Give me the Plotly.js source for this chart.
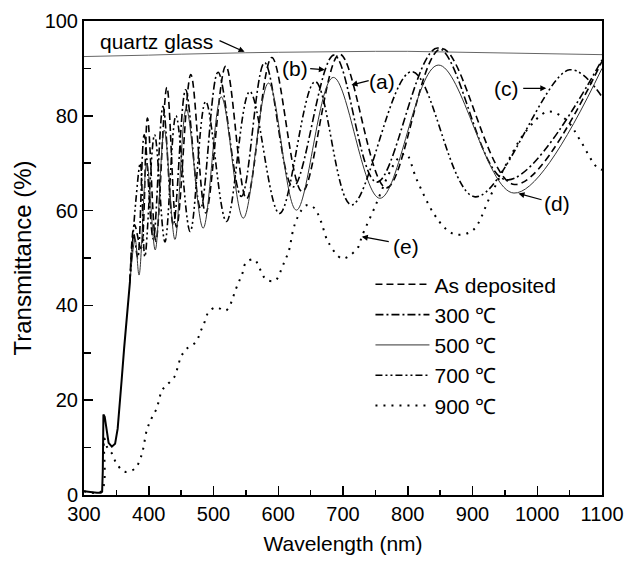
<!DOCTYPE html>
<html>
<head>
<meta charset="utf-8">
<script src="https://cdn.plot.ly/plotly-3.0.1.min.js"></script>
<style>html,body{margin:0;padding:0;background:#fff;}#chart{width:640px;height:564px;}</style>
</head>
<body>
<div id="chart"></div>
<script>
// Common absorption edge (all films overlap here)
const edgeX = [300, 310, 320, 326, 328, 329, 330, 332, 335, 338, 343, 348, 352, 356, 358, 362, 366, 371];
const edgeY = [0.8, 0.6, 0.5, 0.5, 0.7, 5, 17, 16.5, 13.5, 11, 10.2, 10.8, 14, 20, 24, 31, 38, 45];

// As deposited (dashed)
const asDepX = [371, 378, 388, 398, 411, 428, 443, 465, 488, 519, 551, 590, 637, 695, 767, 852, 965, 1100];
const asDepY = [45, 57, 52, 79.5, 53.5, 86, 56.5, 88.7, 59.5, 90.5, 62.5, 92.3, 64, 93, 64.8, 94.2, 65.5, 91.5];

// 300 C (dash-dot)
const t300X = [371, 377, 383, 393, 407, 422, 438, 457, 480, 507, 543, 579, 623, 686, 752, 846, 952, 1100];
const t300Y = [45, 55, 50, 76, 54, 82, 57, 85.5, 60.5, 89.2, 63, 91.2, 65, 92.8, 66, 94.3, 66.5, 91.8];

// 500 C (solid)
const t500X = [371, 379, 385, 397, 410, 424, 440.5, 458, 484, 512, 546, 585, 628, 685, 757, 847, 964, 1100];
const t500Y = [45, 54, 46.4, 70, 51.7, 77, 53.9, 81.5, 56.3, 84, 58.4, 86.9, 60.1, 88.1, 62.6, 90.7, 63.7, 90];

// 700 C (dash-dot-dot)
const t700X = [371, 380, 387, 394, 409, 425, 442, 464, 488, 520, 556, 602, 657, 713, 806, 904, 1050, 1100];
const t700Y = [45, 62, 70, 50.3, 76, 53.4, 80, 55.6, 83, 57.7, 85.1, 59.4, 87.2, 61.2, 89.3, 62.9, 89.7, 84];

// 900 C (dotted)
const t900X = [300, 327, 331, 336, 343, 350, 363, 379, 387, 391, 397, 403, 411, 416, 420, 428, 440, 445, 450, 459, 473, 480, 486, 492, 504, 519, 528, 533, 539, 545, 550, 563, 572, 581, 595, 604, 610, 616, 623, 628, 636, 645, 656, 666, 677, 698, 711, 724, 729, 750, 770, 785, 797, 814, 840, 860, 876, 901, 927, 953, 984, 1017, 1045, 1066, 1091, 1100];
const t900Y = [0.8, 0.8, 12, 10, 8.8, 6.7, 4.9, 5.6, 7.7, 9.5, 13.7, 15.8, 17.9, 20, 22, 23.2, 25, 27.1, 29.2, 30.9, 32.3, 34.5, 36.4, 38.5, 39.6, 38.9, 40.8, 42.9, 44.9, 46.9, 49, 49.7, 47.6, 45.5, 45.2, 47.3, 49.4, 51.3, 55.9, 58, 60.1, 61.2, 60.5, 57.7, 53.4, 49.9, 50.6, 52.4, 54.5, 61, 67.5, 71, 72, 66.5, 59.4, 56, 54.9, 55.9, 62.9, 70, 77, 80.9, 79.1, 74.9, 69.3, 68.6];

// quartz glass
const quartzX = [300, 350, 400, 450, 500, 550, 600, 650, 700, 750, 800, 850, 900, 950, 1000, 1050, 1100];
const quartzY = [92.5, 92.6, 92.8, 93.0, 93.2, 93.3, 93.4, 93.5, 93.6, 93.6, 93.6, 93.5, 93.4, 93.3, 93.2, 93.0, 92.9];

const legendNames = ['As deposited', '300 \u2103', '500 \u2103', '700 \u2103', '900 \u2103'];

const FONT = 'Liberation Sans, Arial, sans-serif';
const sp = {shape: 'spline', smoothing: 1};

const traces = [
  {x: quartzX, y: quartzY, mode: 'lines', line: {color: '#666', width: 1}, showlegend: false, hoverinfo: 'skip'},
  {x: edgeX, y: edgeY, mode: 'lines', line: {color: '#000', width: 2}, showlegend: false},
  {x: asDepX, y: asDepY, name: legendNames[0], mode: 'lines', line: Object.assign({color: '#000', width: 1.6, dash: '7px,4px'}, sp)},
  {x: t300X, y: t300Y, name: legendNames[1], mode: 'lines', line: Object.assign({color: '#000', width: 1.6, dash: '8px,3px,2px,3px'}, sp)},
  {x: t500X, y: t500Y, name: legendNames[2], mode: 'lines', line: Object.assign({color: '#333', width: 1}, sp)},
  {x: t700X, y: t700Y, name: legendNames[3], mode: 'lines', line: Object.assign({color: '#000', width: 1.6, dash: '7px,3px,2px,3px,2px,3px'}, sp)},
  {x: t900X, y: t900Y, name: legendNames[4], mode: 'lines', line: Object.assign({color: '#000', width: 2, dash: '2px,6px'}, sp)}
];

function arrow(hx, hy, tx, ty) {
  return {x: hx, y: hy, ax: tx, ay: ty, axref: 'x', ayref: 'y', xref: 'x', yref: 'y',
          text: '', showarrow: true, arrowhead: 2, arrowsize: 1, arrowwidth: 1.2, arrowcolor: '#000'};
}
function label(x, y, t) {
  return {x: x, y: y, xref: 'x', yref: 'y', text: t, showarrow: false, font: {family: FONT, size: 21, color: '#000'}};
}

const layout = {
  width: 640, height: 564,
  margin: {l: 84, r: 38, t: 21, b: 69},
  paper_bgcolor: '#fff', plot_bgcolor: '#fff',
  font: {family: FONT, color: '#000'},
  showlegend: true,
  legend: {x: 0.553, y: 0.487, xanchor: 'left', yanchor: 'top', bgcolor: 'rgba(0,0,0,0)',
           font: {family: FONT, size: 21, color: '#000'}, itemwidth: 54, tracegroupgap: 0},
  xaxis: {range: [300, 1100], dtick: 100, tick0: 300, ticks: 'inside', ticklen: 9, tickwidth: 1.5, tickcolor: '#000',
          minor: {dtick: 50, ticks: 'inside', ticklen: 5, tickwidth: 1.5, tickcolor: '#000'},
          showline: true, linewidth: 2, linecolor: '#000', mirror: true, showgrid: false, zeroline: false,
          tickfont: {family: FONT, size: 20, color: '#000'},
          title: {text: 'Wavelength (nm)', font: {family: FONT, size: 21, color: '#000'}, standoff: 12}},
  yaxis: {range: [0, 100], dtick: 20, ticks: 'inside', ticklen: 9, tickwidth: 1.5, tickcolor: '#000',
          minor: {dtick: 10, ticks: 'inside', ticklen: 7, tickwidth: 1.5, tickcolor: '#000'},
          showline: true, linewidth: 2, linecolor: '#000', mirror: true, showgrid: false, zeroline: false,
          tickfont: {family: FONT, size: 20, color: '#000'},
          title: {text: 'Transmittance (%)', font: {family: FONT, size: 24, color: '#000'}, standoff: 6}},
  annotations: [
    label(412, 95.6, 'quartz glass'), arrow(548, 93.5, 507, 96),
    label(626, 90, '(b)'), arrow(672, 89.7, 647, 90),
    label(760, 87.2, '(a)'), arrow(713, 86.5, 742, 87.5),
    label(953, 85.8, '(c)'), arrow(1014, 85.8, 976, 85.8),
    label(1030, 61.5, '(d)'), arrow(971, 63.6, 1009, 62.2),
    label(798, 52.4, '(e)'), arrow(729, 54.5, 773, 53.4)
  ]
};

Plotly.newPlot('chart', traces, layout, {staticPlot: true, displayModeBar: false});
</script>
</body>
</html>
